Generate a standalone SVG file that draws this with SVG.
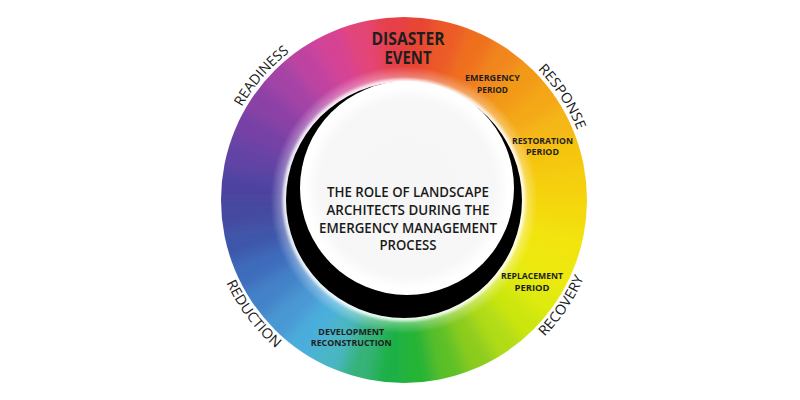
<svg xmlns="http://www.w3.org/2000/svg" width="800" height="400" viewBox="0 0 800 400">
<defs>
<style>
.lbl{font-family:"Open Sans","Liberation Sans",sans-serif;font-weight:700;fill:#1e1e1e;text-anchor:middle}
.ctr{font-family:"Open Sans","Liberation Sans",sans-serif;font-weight:600;font-size:15px;fill:#1a1a1a;text-anchor:middle}
.arc{font-family:"Open Sans","Liberation Sans",sans-serif;font-weight:400;font-size:14px;fill:#1a1a1a}
</style>
<clipPath id="ringClip"><circle cx="404" cy="200" r="183"/></clipPath>
<filter id="soft" x="-20%" y="-20%" width="140%" height="140%"><feGaussianBlur stdDeviation="7"/></filter>
<filter id="glow" x="-20%" y="-20%" width="140%" height="140%"><feGaussianBlur stdDeviation="1.5"/></filter>
<radialGradient id="innerFade" gradientUnits="userSpaceOnUse" cx="404" cy="200" r="183">
<stop offset="0.64" stop-color="#fff" stop-opacity="0.85"/>
<stop offset="0.675" stop-color="#fff" stop-opacity="0.3"/>
<stop offset="0.73" stop-color="#fff" stop-opacity="0"/>
<stop offset="1" stop-color="#fff" stop-opacity="0"/>
</radialGradient>
<radialGradient id="disc" gradientUnits="userSpaceOnUse" cx="407" cy="188" r="107">
<stop offset="0" stop-color="#f6f6f6"/>
<stop offset="0.82" stop-color="#f7f7f7"/>
<stop offset="0.95" stop-color="#ffffff"/>
</radialGradient>
<path id="cw" d="M404,387 A187,187 0 1 1 404,13 A187,187 0 1 1 404,387"/>
<path id="ccw" d="M404,4 A196,196 0 1 0 404,396 A196,196 0 1 0 404,4"/>
</defs>
<rect width="800" height="400" fill="#fff"/>
<g id="ring" clip-path="url(#ringClip)">
<g filter="url(#soft)">
<path d="M404,200L404,0L438.7,3z" fill="#e84530"/>
<path d="M404,200L438.7,3L472.4,12.1z" fill="#ec5a26"/>
<path d="M404,200L472.4,12.1L504,26.8z" fill="#ef701e"/>
<path d="M404,200L504,26.8L532.6,46.8z" fill="#f1861a"/>
<path d="M404,200L532.6,46.8L557.2,71.4z" fill="#f29a16"/>
<path d="M404,200L557.2,71.4L577.2,100z" fill="#f4a814"/>
<path d="M404,200L577.2,100L591.9,131.6z" fill="#f5b812"/>
<path d="M404,200L591.9,131.6L601,165.3z" fill="#f5c60e"/>
<path d="M404,200L601,165.3L604,200z" fill="#f5d00c"/>
<path d="M404,200L604,200L601,234.7z" fill="#f4da0a"/>
<path d="M404,200L601,234.7L591.9,268.4z" fill="#f2e40a"/>
<path d="M404,200L591.9,268.4L577.2,300z" fill="#eee80a"/>
<path d="M404,200L577.2,300L557.2,328.6z" fill="#e0ea0c"/>
<path d="M404,200L557.2,328.6L532.6,353.2z" fill="#cce610"/>
<path d="M404,200L532.6,353.2L504,373.2z" fill="#b0dc14"/>
<path d="M404,200L504,373.2L472.4,387.9z" fill="#8ccc1c"/>
<path d="M404,200L472.4,387.9L438.7,397z" fill="#5cc028"/>
<path d="M404,200L438.7,397L404,400z" fill="#28b436"/>
<path d="M404,200L404,400L369.3,397z" fill="#1eb046"/>
<path d="M404,200L369.3,397L335.6,387.9z" fill="#34b278"/>
<path d="M404,200L335.6,387.9L304,373.2z" fill="#48b6c4"/>
<path d="M404,200L304,373.2L275.4,353.2z" fill="#4aaedc"/>
<path d="M404,200L275.4,353.2L250.8,328.6z" fill="#4898d4"/>
<path d="M404,200L250.8,328.6L230.8,300z" fill="#4282c8"/>
<path d="M404,200L230.8,300L216.1,268.4z" fill="#3e6cbc"/>
<path d="M404,200L216.1,268.4L207,234.7z" fill="#3e56aa"/>
<path d="M404,200L207,234.7L204,200z" fill="#4448a0"/>
<path d="M404,200L204,200L207,165.3z" fill="#4e42a0"/>
<path d="M404,200L207,165.3L216.1,131.6z" fill="#6242a4"/>
<path d="M404,200L216.1,131.6L230.8,100z" fill="#7640a6"/>
<path d="M404,200L230.8,100L250.8,71.4z" fill="#8c40a6"/>
<path d="M404,200L250.8,71.4L275.4,46.8z" fill="#a442a6"/>
<path d="M404,200L275.4,46.8L304,26.8z" fill="#c042a0"/>
<path d="M404,200L304,26.8L335.6,12.1z" fill="#d64294"/>
<path d="M404,200L335.6,12.1L369.3,3z" fill="#e24478"/>
<path d="M404,200L369.3,3L404,0z" fill="#e6404c"/>
</g>
<circle cx="404" cy="200" r="183" fill="url(#innerFade)"/>
</g>
<g id="hub">
<circle cx="404" cy="200" r="119" fill="none" stroke="#fff" stroke-width="2.5" filter="url(#glow)"/>
<circle cx="404" cy="200" r="118" fill="#000"/>
<circle cx="407" cy="188" r="107" fill="url(#disc)"/>
</g>
<g id="center-title">
<text class="ctr" x="408" y="197" textLength="162" lengthAdjust="spacingAndGlyphs">THE ROLE OF LANDSCAPE</text>
<text class="ctr" x="408" y="215" textLength="163" lengthAdjust="spacingAndGlyphs">ARCHITECTS DURING THE</text>
<text class="ctr" x="408" y="233" textLength="178" lengthAdjust="spacingAndGlyphs">EMERGENCY MANAGEMENT</text>
<text class="ctr" x="408" y="250" textLength="57" lengthAdjust="spacingAndGlyphs">PROCESS</text>
</g>
<g id="disaster-event">
<text class="lbl" x="408" y="45" font-size="17" textLength="73" lengthAdjust="spacingAndGlyphs">DISASTER</text>
<text class="lbl" x="408" y="64" font-size="17" textLength="47" lengthAdjust="spacingAndGlyphs">EVENT</text>
</g>
<g id="emergency-period">
<text class="lbl" x="492.5" y="80.7" font-size="9.5" textLength="55" lengthAdjust="spacingAndGlyphs">EMERGENCY</text>
<text class="lbl" x="492.5" y="92.7" font-size="9.5" textLength="31" lengthAdjust="spacingAndGlyphs">PERIOD</text>
</g>
<g id="restoration-period">
<text class="lbl" x="542.5" y="144.3" font-size="9.5" textLength="61" lengthAdjust="spacingAndGlyphs">RESTORATION</text>
<text class="lbl" x="542.5" y="155" font-size="9.5" textLength="33" lengthAdjust="spacingAndGlyphs">PERIOD</text>
</g>
<g id="replacement-period">
<text class="lbl" x="532" y="279.3" font-size="9.5" textLength="62" lengthAdjust="spacingAndGlyphs">REPLACEMENT</text>
<text class="lbl" x="532" y="290.7" font-size="9.5" textLength="35" lengthAdjust="spacingAndGlyphs">PERIOD</text>
</g>
<g id="development-reconstruction">
<text class="lbl" x="351.3" y="335" font-size="9.5" textLength="66" lengthAdjust="spacingAndGlyphs">DEVELOPMENT</text>
<text class="lbl" x="351.3" y="346" font-size="9.5" textLength="81" lengthAdjust="spacingAndGlyphs">RECONSTRUCTION</text>
</g>
<g id="phase-labels">
<text class="arc" textLength="73" lengthAdjust="spacingAndGlyphs"><textPath href="#cw" startOffset="36.4%" text-anchor="middle">READINESS</textPath></text>
<text class="arc" textLength="73" lengthAdjust="spacingAndGlyphs"><textPath href="#cw" startOffset="65.8%" text-anchor="middle">RESPONSE</textPath></text>
<text class="arc" textLength="71" lengthAdjust="spacingAndGlyphs"><textPath href="#ccw" startOffset="65.6%" text-anchor="middle">RECOVERY</textPath></text>
<text class="arc" textLength="83" lengthAdjust="spacingAndGlyphs"><textPath href="#ccw" startOffset="35.3%" text-anchor="middle">REDUCTION</textPath></text>
</g>
</svg>
